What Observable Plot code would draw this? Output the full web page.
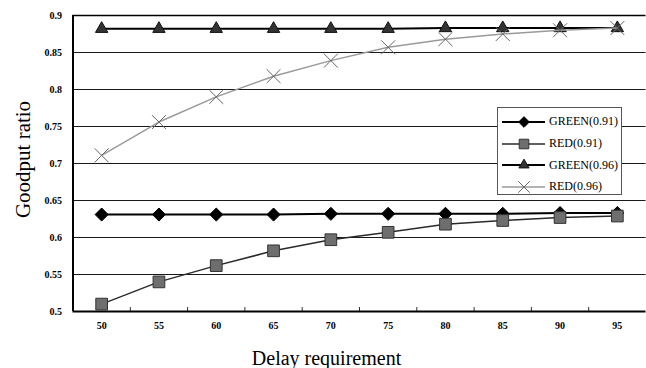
<!DOCTYPE html>
<html>
<head>
<meta charset="utf-8">
<script src="https://cdn.jsdelivr.net/npm/d3@7"></script>
<script src="https://cdn.jsdelivr.net/npm/@observablehq/plot@0.6"></script>
<style>
  html, body { margin: 0; padding: 0; background: #fff; }
  #chart { position: relative; width: 646px; height: 368px; overflow: hidden; }
  #legend {
    position: absolute; left: 497px; top: 107px; width: 125px; height: 88px;
    border: 1px solid #555; background: #fff; box-sizing: border-box; padding-top: 3px;
    font: 12px "Liberation Serif", serif; color: #000;
  }
  #legend .row { display: flex; align-items: center; height: 21.7px; }
  #legend svg { flex: none; }
</style>
</head>
<body>
<div id="chart"></div>
<script>
// Delay requirement categories and tick labels
const delays = [50, 55, 60, 65, 70, 75, 80, 85, 90, 95];
const yTicks = [0.5, 0.55, 0.6, 0.65, 0.7, 0.75, 0.8, 0.85, 0.9];

// Goodput ratio per scheme
const green091 = [0.631, 0.631, 0.631, 0.631, 0.632, 0.632, 0.632, 0.632, 0.633, 0.633];
const red091   = [0.510, 0.540, 0.562, 0.582, 0.597, 0.607, 0.618, 0.623, 0.627, 0.629];
const green096 = [0.882, 0.882, 0.882, 0.882, 0.882, 0.882, 0.883, 0.883, 0.883, 0.883];
const red096   = [0.711, 0.756, 0.790, 0.818, 0.839, 0.857, 0.868, 0.875, 0.880, 0.883];

const seriesNames = ["GREEN(0.91)", "RED(0.91)", "GREEN(0.96)", "RED(0.96)"];
const seriesValues = [green091, red091, green096, red096];

// Drawing style of each series: line + marker
const styles = {
  "GREEN(0.91)": {line: "#000", lw: 2, symbol: "diamond2", r: 5.9, fill: "#000", stroke: "#000", sw: 1, d3sym: d3.symbolDiamond2},
  "RED(0.91)":   {line: "#2a2a2a", lw: 1.5, symbol: "square", r: 6.6, fill: "#6e6e6e", stroke: "#333", sw: 1, d3sym: d3.symbolSquare},
  "GREEN(0.96)": {line: "#000", lw: 2, symbol: "triangle", r: 4.6, fill: "#333", stroke: "#111", sw: 1, d3sym: d3.symbolTriangle},
  "RED(0.96)":   {line: "#9a9a9a", lw: 1.5, symbol: "times", r: 6.4, fill: "none", stroke: "#666", sw: 1, d3sym: d3.symbolTimes}
};

const rows = seriesNames.flatMap((name, s) =>
  delays.map((d, i) => ({series: name, delay: d, value: seriesValues[s][i]})));

// category boundaries on the x axis
const boundaries = delays.slice(1).map(d => d - 2.5);
const xDomain = [delays[0] - 2.5, delays[delays.length - 1] + 2.5];
const yDomain = [yTicks[0], yTicks[yTicks.length - 1]];

const seriesMarks = seriesNames.flatMap(name => {
  const st = styles[name];
  const data = rows.filter(d => d.series === name);
  return [
    Plot.line(data, {x: "delay", y: "value", stroke: st.line, strokeWidth: st.lw}),
    Plot.dot(data, {x: "delay", y: "value", symbol: () => st.symbol, r: st.r,
                    fill: st.fill, stroke: st.stroke, strokeWidth: st.sw})
  ];
});

const chart = Plot.plot({
  width: 646,
  height: 368,
  marginLeft: 72.5,
  marginRight: 0.5,
  marginTop: 15,
  marginBottom: 57,
  style: {fontFamily: "Liberation Serif, serif", fontSize: "10px", fontWeight: "bold", background: "#fff", color: "#000"},
  symbol: {type: "identity"},
  x: {type: "linear", domain: xDomain, ticks: delays, tickFormat: d => String(d), tickSize: 0, tickPadding: 10, label: null},
  y: {domain: yDomain, ticks: yTicks, tickFormat: d => String(d), tickSize: 0, tickPadding: 11, label: null},
  marks: [
    Plot.ruleY(yTicks.slice(1, -1), {stroke: "#1a1a1a", strokeWidth: 1.2}),
    Plot.ruleY([yDomain[1]], {stroke: "#000", strokeWidth: 1.6}),
    Plot.ruleX(boundaries, {y1: yDomain[0], y2: yDomain[0], insetTop: -4, stroke: "#333", strokeWidth: 1}),
    ...seriesMarks,
    Plot.ruleY([yDomain[0]], {stroke: "#000", strokeWidth: 2}),
    Plot.ruleX([xDomain[0]], {stroke: "#000", strokeWidth: 2}),
    Plot.text(["Delay requirement"], {frameAnchor: "bottom", dx: -33, dy: 47, fontSize: 20, fontWeight: "normal", textAnchor: "middle", lineAnchor: "middle"}),
    Plot.text(["Goodput ratio"], {frameAnchor: "left", dx: -50, dy: -4, rotate: -90, fontSize: 21, fontWeight: "normal", textAnchor: "middle", lineAnchor: "middle"})
  ]
});

const root = document.getElementById("chart");
root.appendChild(chart);

// Legend box: line segment with marker, then series name
const legend = document.createElement("div");
legend.id = "legend";
seriesNames.forEach(name => {
  const st = styles[name];
  const row = document.createElement("div");
  row.className = "row";
  const svg = d3.create("svg").attr("width", 51).attr("height", 20);
  svg.append("line").attr("x1", 4).attr("x2", 47).attr("y1", 10).attr("y2", 10)
    .attr("stroke", st.line).attr("stroke-width", st.lw);
  const rr = st.r * 0.82;
  svg.append("path").attr("transform", "translate(26,10)")
    .attr("d", d3.symbol(st.d3sym, Math.PI * rr * rr)())
    .attr("fill", st.fill).attr("stroke", st.stroke).attr("stroke-width", st.sw);
  row.appendChild(svg.node());
  const label = document.createElement("span");
  label.textContent = name;
  row.appendChild(label);
  legend.appendChild(row);
});
root.appendChild(legend);
</script>
</body>
</html>
